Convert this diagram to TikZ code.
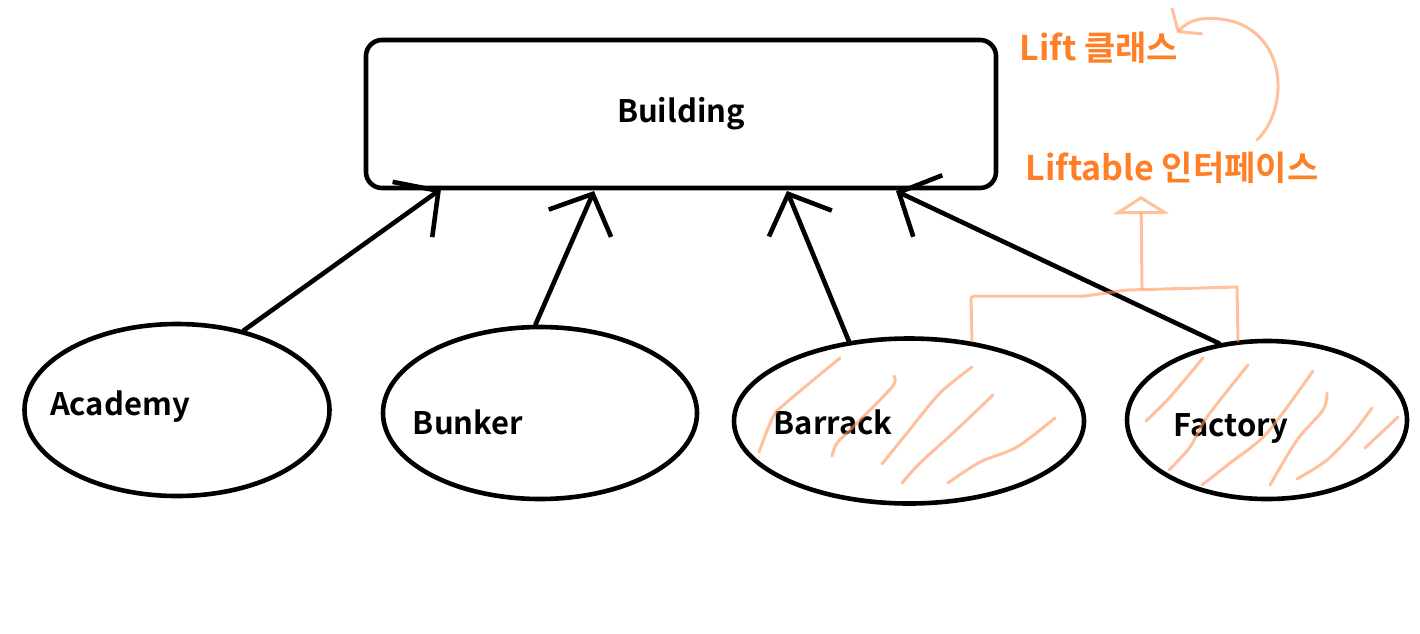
\documentclass[tikz,border=0pt]{standalone}
\usepackage{fontspec}
\setmainfont{Noto Sans CJK KR}[BoldFont=* Bold]
\usetikzlibrary{shapes.geometric,arrows.meta}
\definecolor{paintorange}{RGB}{255,127,39}
\definecolor{peach}{RGB}{255,150,90}
\tikzset{
  txt/.style={font=\fontsize{31}{36}\selectfont\bfseries},
  bigtxt/.style={font=\fontsize{34}{40}\selectfont\bfseries, text=paintorange},
  unit/.style={draw, ellipse, line width=4.6pt},
  inherit/.style={line width=4.6pt, line cap=round, -{Straight Barb[length=32pt,width=68pt]}},
  hatch/.style={draw=peach, draw opacity=0.6, line width=3pt, line cap=round, line join=round},
}
\begin{document}
\begin{tikzpicture}[x=1pt,y=-1pt]
    \useasboundingbox (0,0) rectangle (1420,633);
    \node[draw, line width=4.6pt, rounded corners=16pt, minimum width=630pt,
        minimum height=148pt, txt] (building) at (681,114) {Building};
    \node[unit, minimum width=305pt, minimum height=172pt] (academy) at (177,410) {};
    \node[unit, minimum width=314pt, minimum height=172pt] (bunker) at (540,413) {};
    \node[unit, minimum width=350pt, minimum height=165pt] (barrack) at (909,421) {};
    \node[unit, minimum width=280pt, minimum height=158pt] (factory) at (1267,420) {};
    \node[txt] (academy-text) at (120,407) {Academy};
    \node[txt] (bunker-text) at (468,422) {Bunker};
    \node[txt] (barrack-text) at (833,422) {Barrack};
    \node[txt] (factory-text) at (1231,428) {Factory};
    \coordinate (t1) at (441,189);
    \coordinate (t2) at (594,191);
    \coordinate (t3) at (787,191);
    \coordinate (t4) at (896,191);
    \draw[inherit] (academy.50) -- (t1);
    \draw[inherit] (bunker.93) -- (t2);
    \draw[inherit] (barrack.127) -- (t3);
    \draw[inherit] (factory.122) -- (t4);
    \draw[hatch] plot[smooth] coordinates {(759,452) (773,417) (787,402) (840,358)};
    \draw[hatch] plot[smooth] coordinates {(832,456) (837,443) (853,427) (892,387) (894,376)};
    \draw[hatch] plot[smooth] coordinates {(882,464) (907,433) (940,393) (972,367)};
    \draw[hatch] plot[smooth] coordinates {(902,483) (920,463) (953,433) (993,395)};
    \draw[hatch] plot[smooth] coordinates {(948,483) (980,462) (1017,447) (1055,418)};
    \draw[hatch] plot[smooth] coordinates {(1146,421) (1170,397) (1203,358)};
    \draw[hatch] plot[smooth] coordinates {(1169,470) (1190,447) (1207,417) (1248,365)};
    \draw[hatch] plot[smooth] coordinates {(1202,485) (1230,463) (1267,433) (1313,371)};
    \draw[hatch] plot[smooth] coordinates {(1270,485) (1297,440) (1323,410) (1327,393)};
    \draw[hatch] plot[smooth] coordinates {(1297,479) (1327,460) (1353,433) (1372,408)};
    \draw[hatch] plot[smooth] coordinates {(1365,448) (1398,417)};
    \node[bigtxt] (lift) at (1099,48) {Lift 클래스};
    \node[bigtxt] (liftable) at (1172,168) {Liftable 인터페이스};
    \coordinate (b1) at (972,341);
    \coordinate (b2) at (1238,341);
    \coordinate (s0) at (1142,288);
    \coordinate (s1) at (1141,196);
    \coordinate (c1) at (1257,140);
    \coordinate (c2) at (1177,33);
    \draw[hatch] (b1) -- (971,298) -- (974,296) -- (1085,296) -- (1127,290)
        -- (1237,287) -- (b2);
    \draw[hatch, -{Triangle[open,length=18pt,width=56pt]}] (s0) -- (s1);
    \draw[hatch, -{Straight Barb[length=14pt,width=40pt]}] (c1)
        .. controls (1288,110) and (1288,40) .. (1235,22)
        .. controls (1205,14) and (1188,20) .. (c2);
\end{tikzpicture}
\end{document}
